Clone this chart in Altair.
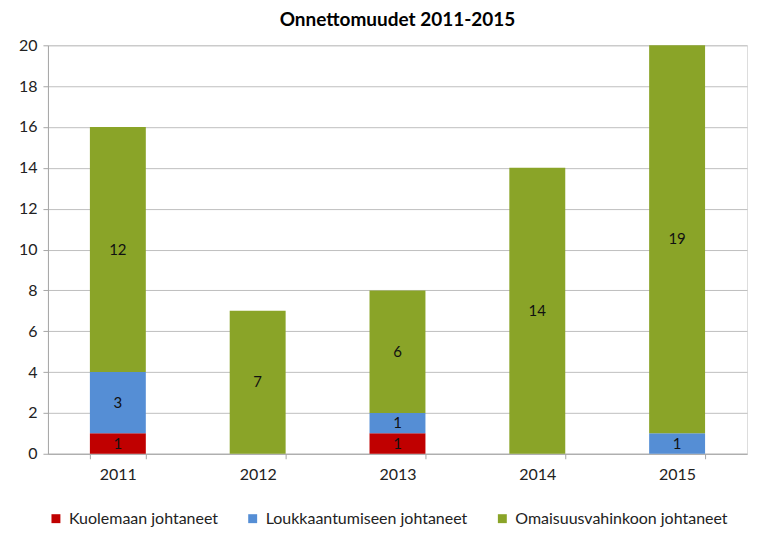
import altair as alt
import pandas as pd

years = ["2011", "2012", "2013", "2014", "2015"]
series = ["Kuolemaan johtaneet", "Loukkaantumiseen johtaneet", "Omaisuusvahinkoon johtaneet"]
kuolemaan = [1, 0, 1, 0, 0]
loukkaantumiseen = [3, 0, 1, 0, 1]
omaisuus = [12, 7, 6, 14, 19]
colors = ["#C00000", "#558ED5", "#8AA428"]

rows = []
for i, y in enumerate(years):
    for s_idx, (s, vals) in enumerate(zip(series, [kuolemaan, loukkaantumiseen, omaisuus])):
        rows.append({"year": y, "series": s, "value": vals[i], "order": s_idx})
df = pd.DataFrame(rows)
df = df[df["value"] > 0]

FONT = "Lato"

bars = alt.Chart(df).mark_bar(size=56).encode(
    x=alt.X("year:N", sort=years, title=None,
            scale=alt.Scale(paddingInner=0.6, paddingOuter=0.3),
            axis=alt.Axis(labelAngle=0, tickBand="extent", tickSize=5, tickColor="#a6a6a6",
                          domainColor="#a6a6a6", labelFontSize=16, labelColor="#222",
                          labelPadding=8, labelFont=FONT, grid=False)),
    y=alt.Y("value:Q", stack="zero", title=None,
            scale=alt.Scale(domain=[0, 20]),
            axis=alt.Axis(values=list(range(0, 21, 2)), tickSize=5, tickColor="#a6a6a6",
                          domainColor="#a6a6a6", gridColor="#bfbfbf", labelFontSize=16,
                          labelColor="#222", labelPadding=6, labelFont=FONT)),
    order=alt.Order("order:Q"),
    color=alt.Color("series:N", sort=series,
                    scale=alt.Scale(domain=series, range=colors),
                    legend=alt.Legend(title=None, orient="none", direction="horizontal",
                                      legendX=0, legendY=466, symbolType="square",
                                      symbolSize=80, symbolStrokeWidth=0, labelFontSize=16,
                                      labelFont=FONT, labelColor="#222", columnPadding=26,
                                      labelOffset=5, labelLimit=400)),
)

labels = alt.Chart(df).transform_stack(
    stack="value", groupby=["year"], as_=["v0", "v1"], sort=[alt.SortField("order")]
).transform_calculate(mid="(datum.v0 + datum.v1) / 2").mark_text(
    fontSize=15, font=FONT, color="#111"
).encode(
    x=alt.X("year:N", sort=years),
    y=alt.Y("mid:Q"),
    text=alt.Text("value:Q"),
)

chart = alt.layer(bars, labels).properties(
    width=700, height=409,
    title=alt.TitleParams("Onnettomuudet 2011-2015", fontSize=19, font=FONT,
                          fontWeight="bold", color="#000", offset=7),
    padding={"left": 40, "top": 37, "right": 10, "bottom": 86},
    autosize=alt.AutoSizeParams(type="none"),
).configure_view(stroke=None).configure(background="white")

chart.save("out.html", embed_options={"renderer": "svg", "actions": False})
